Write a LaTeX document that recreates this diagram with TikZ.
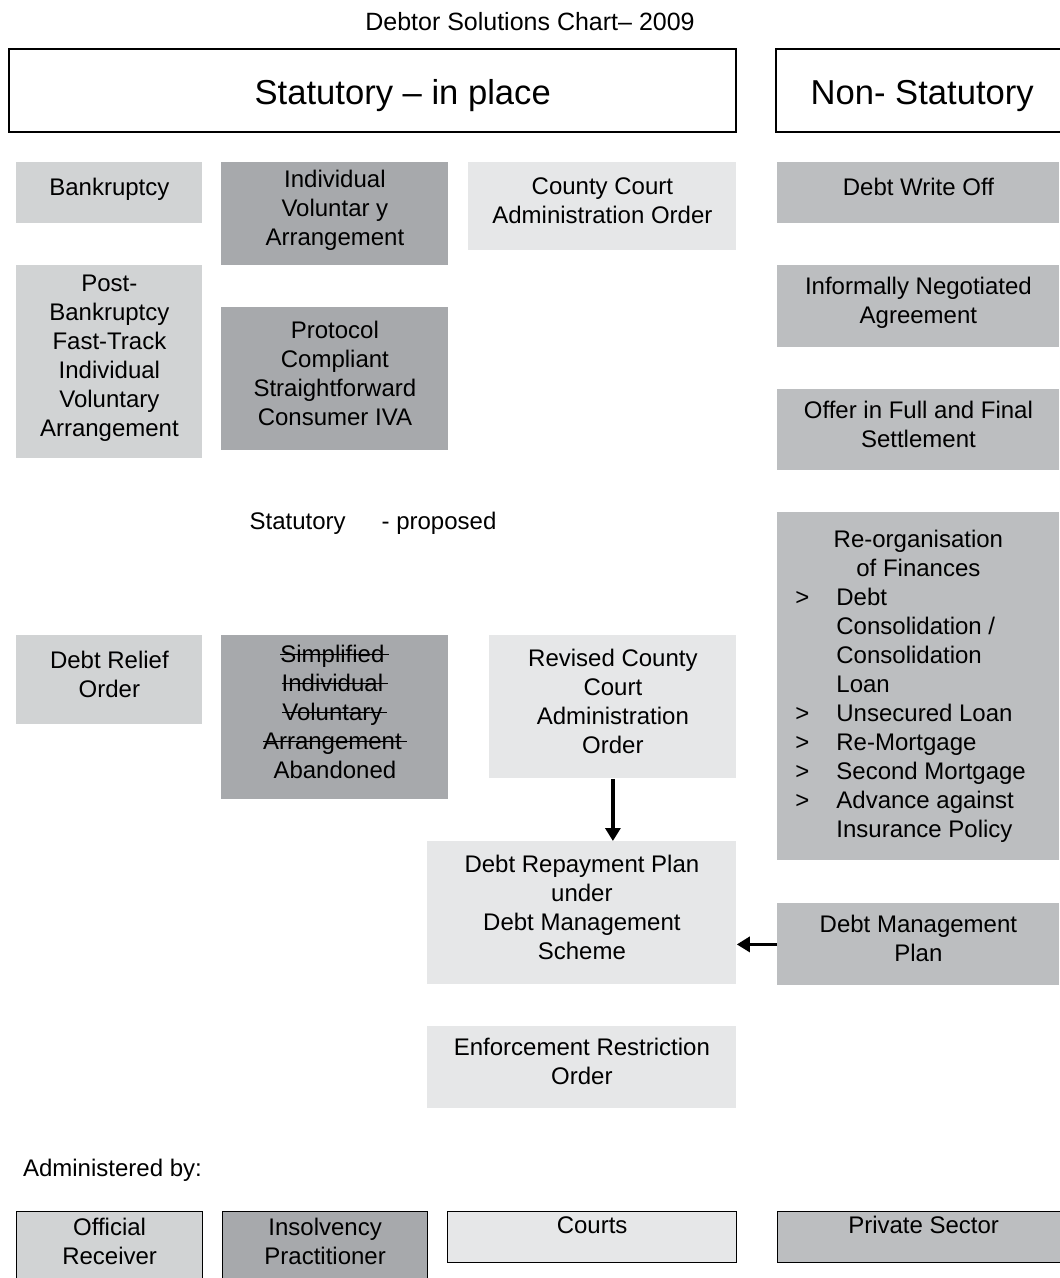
\documentclass[tikz,border=0pt]{standalone}
\usepackage{fontspec}
\setmainfont{Liberation Sans}
\usepackage{tikz}
\usetikzlibrary{arrows.meta}

\definecolor{orgray}{HTML}{D1D3D4}
\definecolor{ipgray}{HTML}{A7A9AC}
\definecolor{ctgray}{HTML}{E6E7E8}
\definecolor{psgray}{HTML}{BCBEC0}

\newcommand{\bodyfont}{\fontsize{12}{14.5}\selectfont}
\newcommand{\strikeout}[1]{\setbox0=\hbox{#1}\rlap{\copy0}\rule[0.3em]{\dimexpr\wd0+2.5pt\relax}{0.7pt}}

\begin{document}
\begin{tikzpicture}[x=0.5pt, y=-0.5pt,
    box/.style = {anchor=north west, inner sep=0pt, align=center, font=\bodyfont, text depth=6pt},
    hdr/.style = {box, draw, line width=1.2pt, font=\fontsize{17.3}{20}\selectfont, text height=18pt, text depth=4pt},
    leg/.style = {box, draw, line width=0.6pt, text depth=12pt},
    link/.style = {-{Triangle[width=7.5pt,length=6.5pt]}, line width=1.6pt}]
        \useasboundingbox (0,0) rectangle (1059,1278);

        \node[font=\fontsize{12.5}{14}\selectfont] at (530,22) (title) {Debtor Solutions Chart– 2009};
        \node[hdr, minimum width=363.5pt, minimum height=41.5pt] at (8,48) (inplace) {\hspace*{30pt}Statutory – in place};
        \node[hdr, minimum width=146pt, minimum height=41.5pt] at (775,48) (nonstat) {Non- Statutory};

        % statutory - in place
        \node[box, fill=orgray, minimum width=93pt, minimum height=30.5pt] at (16,162) (bankr) {Bankruptcy};
        \node[box, fill=orgray, minimum width=93pt, minimum height=96.5pt] at (16,265) (postbk) {Post-\\Bankruptcy\\Fast-Track\\Individual\\Voluntary\\Arrangement};
        \node[box, fill=ipgray, minimum width=113.5pt, minimum height=51.5pt] at (221,162) (iva) {Individual\\Voluntar y\\Arrangement};
        \node[box, fill=ipgray, minimum width=113.5pt, minimum height=71.5pt] at (221,307) (pciva) {Protocol\\Compliant\\Straightforward\\Consumer IVA};
        \node[box, fill=ctgray, minimum width=134pt, minimum height=44pt] at (468,162) (ccao) {County Court\\Administration Order};

        % non-statutory
        \node[box, fill=psgray, minimum width=141pt, minimum height=30.5pt] at (777,162) (writeoff) {Debt Write Off};
        \node[box, fill=psgray, minimum width=141pt, minimum height=41pt] at (777,265) (informal) {Informally Negotiated\\Agreement};
        \node[box, fill=psgray, minimum width=141pt, minimum height=40.5pt] at (777,389) (offer) {Offer in Full and Final\\Settlement};
        \node[box, fill=psgray, minimum width=141pt, minimum height=174pt, text width=141pt, align=none, text depth={}] at (777,512) (reorg) {%
            \centering Re-organisation\\of Finances\par
            \raggedright
            \hspace*{9pt}\makebox[20.5pt][l]{>}Debt\\
            \hspace*{29.5pt}Consolidation /\\
            \hspace*{29.5pt}Consolidation\\
            \hspace*{29.5pt}Loan\\
            \hspace*{9pt}\makebox[20.5pt][l]{>}Unsecured Loan\\
            \hspace*{9pt}\makebox[20.5pt][l]{>}Re-Mortgage\\
            \hspace*{9pt}\makebox[20.5pt][l]{>}Second Mortgage\\
            \hspace*{9pt}\makebox[20.5pt][l]{>}Advance against\\
            \hspace*{29.5pt}Insurance Policy\par\vspace*{14pt}};
        \node[box, fill=psgray, minimum width=141pt, minimum height=41pt] at (777,903) (dmp) {Debt Management\\Plan};

        % statutory - proposed
        \node[font=\bodyfont] at (373,523) (proposed) {Statutory\hspace{18pt}- proposed};
        \node[box, fill=orgray, minimum width=93pt, minimum height=44.5pt] at (16,635) (dro) {Debt Relief\\Order};
        \node[box, fill=ipgray, minimum width=113.5pt, minimum height=82pt] at (221,635) (siva) {\strikeout{Simplified}\\\strikeout{Individual}\\\strikeout{Voluntary}\\\strikeout{Arrangement}\\Abandoned};
        \node[box, fill=ctgray, minimum width=123.5pt, minimum height=71.5pt] at (489,635) (rccao) {Revised County\\Court\\Administration\\Order};
        \node[box, fill=ctgray, minimum width=154.5pt, minimum height=71.5pt] at (427,841) (drp) {Debt Repayment Plan\\under\\Debt Management\\Scheme};
        \node[box, fill=ctgray, minimum width=154.5pt, minimum height=41pt] at (427,1026) (ero) {Enforcement Restriction\\Order};

        \draw[link] (rccao.south) -- (rccao.south |- drp.north);
        \draw[link] (dmp.west) -- (drp.east |- dmp.west);

        % administered by
        \node[font=\bodyfont, anchor=west] at (16,1170) (adminby) {Administered by:};
        \node[leg, fill=orgray, minimum width=93pt, minimum height=42pt] at (16,1211) (offrec) {Official\\Receiver};
        \node[leg, fill=ipgray, minimum width=102.5pt, minimum height=42pt] at (222,1211) (insprac) {Insolvency\\Practitioner};
        \node[leg, fill=ctgray, minimum width=144.5pt, minimum height=25.5pt] at (447,1211) (courts) {Courts};
        \node[leg, fill=psgray, minimum width=146pt, minimum height=25.5pt] at (777,1211) (private) {Private Sector};
\end{tikzpicture}
\end{document}
